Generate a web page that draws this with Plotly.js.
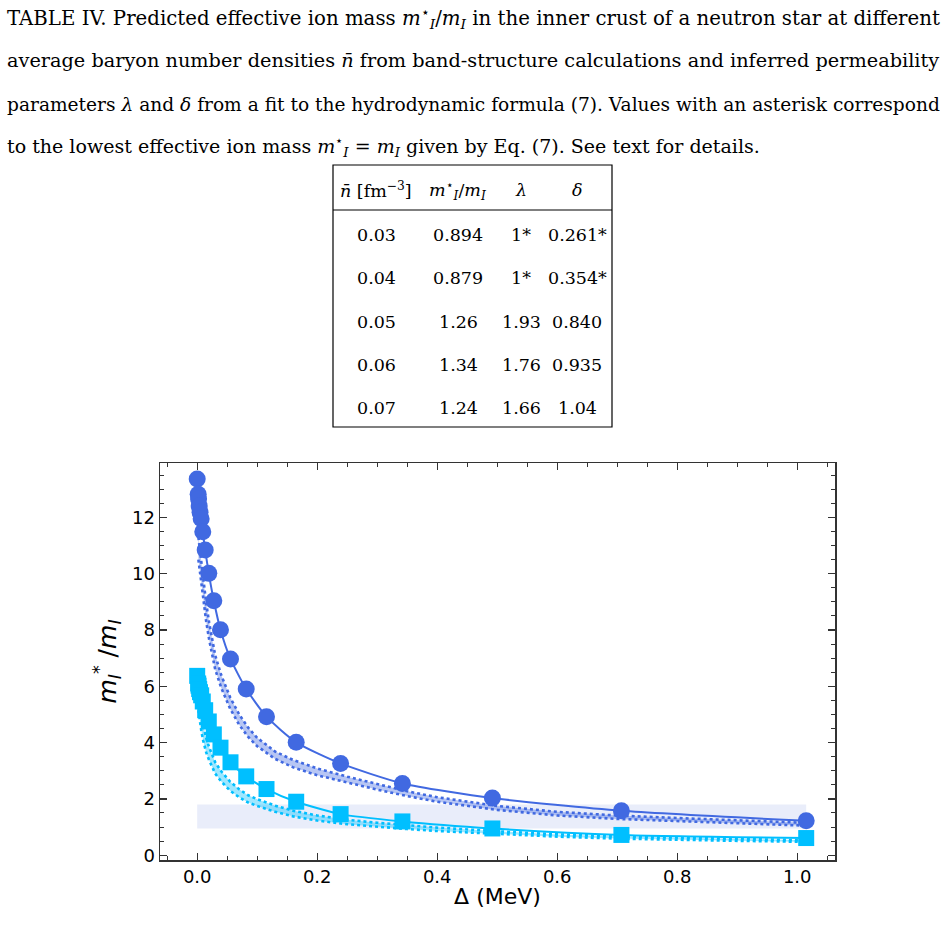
<!DOCTYPE html>
<html><head><meta charset="utf-8">
<script src="https://cdn.plot.ly/plotly-3.0.1.min.js"></script>
<style>html,body{margin:0;padding:0;background:#fff;}#chart{width:944px;height:934px;}</style>
</head><body><div id="chart"></div>
<script>
// ---------- data ----------
const deltaPts = [0, 0.0016, 0.0023, 0.0033, 0.0047, 0.0066, 0.0093, 0.0133, 0.0193, 0.0277, 0.0388, 0.0555, 0.0817, 0.1155, 0.165, 0.239, 0.342, 0.492, 0.707, 1.015];
const massCircles = [13.36, 12.82, 12.65, 12.4, 12.18, 11.95, 11.49, 10.84, 10.01, 9.04, 8.01, 6.97, 5.90, 4.92, 4.01, 3.26, 2.55, 2.03, 1.58, 1.22];
const massSquares = [6.37, 6.1, 6.02, 5.9, 5.79, 5.68, 5.46, 5.15, 4.75, 4.29, 3.82, 3.3, 2.80, 2.35, 1.90, 1.46, 1.20, 0.95, 0.72, 0.61];

const deltaBand = [0.002, 0.004, 0.007, 0.01, 0.015, 0.02, 0.03, 0.04, 0.055, 0.07, 0.085, 0.1, 0.13, 0.16, 0.2, 0.25, 0.3, 0.35, 0.4, 0.5, 0.6, 0.7, 0.8, 0.9, 1.0, 1.015];
const bandDarkLow  = [10.5, 10.2, 9.7, 9.15, 8.3, 7.65, 6.6, 5.95, 5.2, 4.63, 4.2, 3.87, 3.42, 3.12, 2.84, 2.58, 2.33, 2.1, 1.9, 1.61, 1.41, 1.29, 1.21, 1.13, 1.06, 1.05];
const bandDarkHigh = [11.3, 10.9, 10.4, 9.85, 8.95, 8.25, 7.1, 6.4, 5.6, 5.0, 4.53, 4.17, 3.68, 3.38, 3.08, 2.79, 2.52, 2.27, 2.06, 1.75, 1.54, 1.41, 1.32, 1.23, 1.16, 1.15];
const bandCyanLow  = [5.15, 4.78, 4.4, 4.07, 3.65, 3.37, 2.9, 2.62, 2.29, 2.06, 1.87, 1.75, 1.54, 1.38, 1.23, 1.1, 1.01, 0.93, 0.86, 0.75, 0.66, 0.59, 0.54, 0.51, 0.48, 0.47];
const bandCyanHigh = [5.85, 5.42, 5.0, 4.63, 4.15, 3.83, 3.3, 2.98, 2.61, 2.34, 2.13, 1.99, 1.76, 1.58, 1.41, 1.26, 1.15, 1.07, 0.98, 0.85, 0.74, 0.67, 0.62, 0.57, 0.54, 0.53];

const rectDelta = [0, 1.015, 1.015, 0, 0];
const rectMass  = [0.95, 0.95, 1.80, 1.80, 0.95];

const xTickVals = [0, 0.2, 0.4, 0.6, 0.8, 1.0];
const xTickText = ['0.0', '0.2', '0.4', '0.6', '0.8', '1.0'];
const yTickVals = [0, 2, 4, 6, 8, 10, 12];
const yTickText = ['0', '2', '4', '6', '8', '10', '12'];

const captionLines = [
  'TABLE IV. Predicted effective ion mass <i>m</i><sup>⋆</sup><sub><i>I</i></sub>/<i>m<sub>I</sub></i> in the inner crust of a neutron star at different',
  'average baryon number densities <i>n̄</i> from band-structure calculations and inferred permeability',
  'parameters <i>λ</i> and <i>δ</i> from a fit to the hydrodynamic formula (7). Values with an asterisk correspond',
  'to the lowest effective ion mass <i>m</i><sup>⋆</sup><sub><i>I</i></sub> = <i>m<sub>I</sub></i> given by Eq. (7). See text for details.'
];
const tableHeader = ['<i>n̄</i> [fm<sup>−3</sup>]', '<i>m</i><sup>⋆</sup><sub><i>I</i></sub>/<i>m<sub>I</sub></i>', '<i>λ</i>', '<i>δ</i>'];
const colDensity = ['0.03', '0.04', '0.05', '0.06', '0.07'];
const colMass    = ['0.894', '0.879', '1.26', '1.34', '1.24'];
const colLambda  = ['1*', '1*', '1.93', '1.76', '1.66'];
const colDelta   = ['0.261*', '0.354*', '0.840', '0.935', '1.04'];

// ---------- layout helpers (pixel -> paper) ----------
const L = 160, R = 835, T = 463, B = 860;
const W = R - L, H = B - T;
const px = v => (v - L) / W;
const py = v => (B - v) / H;

const serif = 'DejaVu Serif, Liberation Serif, serif';
const annotations = [];
const capY = [18, 61, 104, 146];
const capSize = [19.75, 19.3, 18.6, 19.05];
captionLines.forEach((t, i) => annotations.push({
  text: t, xref: 'paper', yref: 'paper', x: px(5), y: py(capY[i]), xanchor: 'left', yanchor: 'middle',
  showarrow: false, font: {family: serif, size: capSize[i], color: '#000'}
}));
const colX = [376, 458, 521, 577];
const hdrY = 190, rowY = [235, 278, 322, 365, 408];
tableHeader.forEach((t, i) => annotations.push({
  text: t, xref: 'paper', yref: 'paper', x: px(colX[i]), y: py(hdrY), xanchor: 'center', yanchor: 'middle',
  showarrow: false, font: {family: serif, size: 17.5, color: '#000'}
}));
[colDensity, colMass, colLambda, colDelta].forEach((col, c) => col.forEach((t, r) => annotations.push({
  text: t, xref: 'paper', yref: 'paper', x: px(colX[c]), y: py(rowY[r]), xanchor: 'center', yanchor: 'middle',
  showarrow: false, font: {family: serif, size: 17.5, color: '#000'}
})));

const shapes = [
  {type: 'rect', xref: 'paper', yref: 'paper', x0: px(333), x1: px(612), y0: py(427), y1: py(165), line: {color: '#000', width: 1.2}, fillcolor: 'rgba(0,0,0,0)'},
  {type: 'line', xref: 'paper', yref: 'paper', x0: px(333), x1: px(612), y0: py(210), y1: py(210), line: {color: '#000', width: 1.2}}
];

// ---------- traces ----------
const blue = '#4169E1', cyan = '#00BFFF';
const traces = [
  {x: rectDelta, y: rectMass, mode: 'lines', fill: 'toself', fillcolor: '#e9edfa', line: {width: 0}, hoverinfo: 'skip'},
  {x: deltaBand, y: bandDarkLow, mode: 'lines', line: {color: blue, width: 2.6, dash: 'dot'}},
  {x: deltaBand, y: bandDarkHigh, mode: 'lines', fill: 'tonexty', fillcolor: 'rgba(65,105,225,0.38)', line: {color: blue, width: 2.6, dash: 'dot'}},
  {x: deltaBand, y: bandCyanLow, mode: 'lines', line: {color: cyan, width: 2.6, dash: 'dot'}},
  {x: deltaBand, y: bandCyanHigh, mode: 'lines', fill: 'tonexty', fillcolor: 'rgba(0,191,255,0.38)', line: {color: cyan, width: 2.6, dash: 'dot'}},
  {x: deltaPts, y: massCircles, mode: 'lines+markers', line: {color: blue, width: 2, shape: 'spline', smoothing: 0.6}, marker: {symbol: 'circle', size: 17, color: blue}},
  {x: deltaPts, y: massSquares, mode: 'lines+markers', line: {color: cyan, width: 2, shape: 'spline', smoothing: 0.6}, marker: {symbol: 'square', size: 16, color: cyan}}
];

const axisCommon = {
  showline: true, mirror: 'ticks', linecolor: '#333', linewidth: 1.5,
  ticks: 'inside', ticklen: 7, tickwidth: 1.3, tickcolor: '#333',
  showgrid: false, zeroline: false,
  tickfont: {family: 'DejaVu Sans', size: 18, color: '#000'}
};

const layout = {
  width: 944, height: 934,
  margin: {l: L, r: 944 - R, t: T, b: 934 - B},
  paper_bgcolor: '#fff', plot_bgcolor: '#fff',
  showlegend: false,
  xaxis: Object.assign({}, axisCommon, {
    range: [-0.062, 1.063], tickvals: xTickVals, ticktext: xTickText,
    minor: {dtick: 0.05, tick0: 0, ticks: 'inside', ticklen: 4, tickwidth: 1, tickcolor: '#333'},
    title: {text: 'Δ (MeV)', font: {family: 'DejaVu Sans', size: 22, color: '#000'}, standoff: 2}
  }),
  yaxis: Object.assign({}, axisCommon, {
    range: [-0.17, 13.93], tickvals: yTickVals, ticktext: yTickText,
    minor: {dtick: 0.5, tick0: 0, ticks: 'inside', ticklen: 4, tickwidth: 1, tickcolor: '#333'},
    title: {text: '<i>m<sub>I</sub><sup>*</sup></i> /<i>m<sub>I</sub></i>', font: {family: 'DejaVu Sans', size: 25, color: '#000'}, standoff: 8}
  }),
  annotations: annotations,
  shapes: shapes
};

Plotly.newPlot('chart', traces, layout, {staticPlot: true, displayModeBar: false});
</script></body></html>
